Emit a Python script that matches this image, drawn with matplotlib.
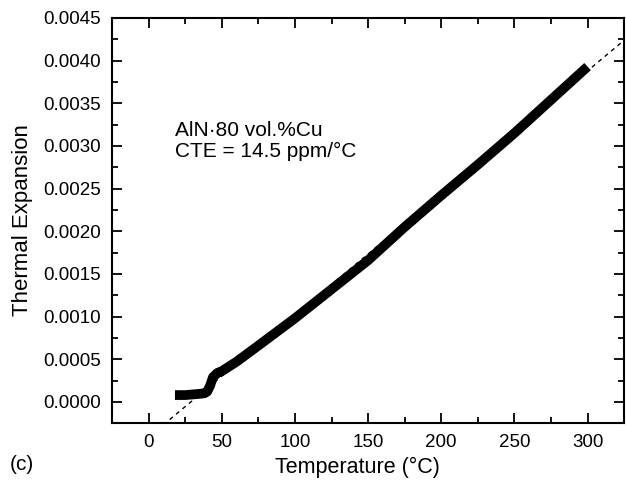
import matplotlib
matplotlib.use("Agg")
import matplotlib.pyplot as plt
from matplotlib.ticker import MultipleLocator

plt.rcParams['font.family'] = ['Liberation Sans', 'DejaVu Sans']

temp = [18, 25, 32, 38, 40, 42, 44, 47, 50, 60, 75, 100, 125, 150,
        175, 200, 225, 250, 275, 300]
expansion = [0.00008, 0.00008, 0.00009, 0.00010, 0.00012, 0.00019, 0.00029,
             0.00034, 0.00036, 0.00047, 0.00066, 0.00098, 0.00132, 0.00166,
             0.00205, 0.00242, 0.00278, 0.00315, 0.00354, 0.00393]

# linear fit (dashed)
fit_temp = [10, 330]
fit_expansion = [-0.00027, 0.00431]

fig = plt.figure(figsize=(6.26, 4.8), dpi=100)
ax = fig.add_axes([0.179, 0.119, 0.818, 0.8435])

ax.plot(fit_temp, fit_expansion, color='black', lw=1.0, ls=(0, (3, 3)))
ax.plot(temp, expansion, color='black', lw=7, solid_capstyle='butt',
        solid_joinstyle='round')

ax.set_xlim(-25, 325)
ax.set_ylim(-0.000246, 0.0045)

ax.xaxis.set_major_locator(MultipleLocator(50))
ax.xaxis.set_minor_locator(MultipleLocator(25))
ax.yaxis.set_major_locator(MultipleLocator(0.0005))
ax.yaxis.set_minor_locator(MultipleLocator(0.00025))
ax.yaxis.set_major_formatter(plt.FormatStrFormatter('%.4f'))

ax.tick_params(which='both', direction='in', top=True, right=True,
               labelsize=13.5, width=1.3)
ax.tick_params(which='major', length=7, pad=8)
ax.tick_params(which='minor', length=4)
for s in ax.spines.values():
    s.set_linewidth(1.5)

ax.set_xlabel('Temperature (°C)', fontsize=15.5)
ax.xaxis.set_label_coords(0.479, -0.083)
ax.set_ylabel('Thermal Expansion', fontsize=16)
ax.yaxis.set_label_coords(-0.155, 0.5)

ax.text(0.123, 0.745, 'AlN·80 vol.%Cu\nCTE = 14.5 ppm/°C', transform=ax.transAxes,
        fontsize=15, va='top', ha='left', linespacing=1.1)
fig.text(0.016, 0.02, '(c)', fontsize=15)

fig.savefig('out.png', dpi=100)
